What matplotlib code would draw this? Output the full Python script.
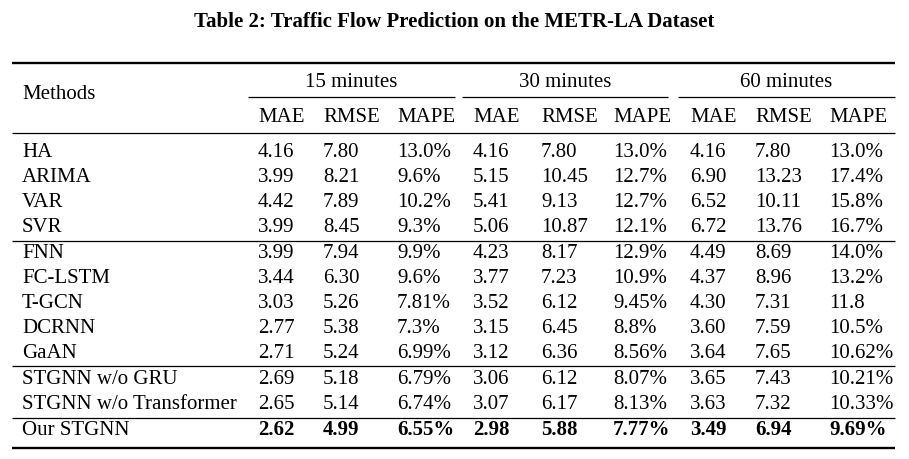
import matplotlib
matplotlib.use("Agg")
import matplotlib.pyplot as plt

title = "Table 2: Traffic Flow Prediction on the METR-LA Dataset"
groups = ["15 minutes", "30 minutes", "60 minutes"]
metrics = ["MAE", "RMSE", "MAPE"]
methods = ["HA", "ARIMA", "VAR", "SVR", "FNN", "FC-LSTM", "T-GCN", "DCRNN", "GaAN",
           "STGNN w/o GRU", "STGNN w/o Transformer", "Our STGNN"]
mae15 = ["4.16", "3.99", "4.42", "3.99", "3.99", "3.44", "3.03", "2.77", "2.71", "2.69", "2.65", "2.62"]
rmse15 = ["7.80", "8.21", "7.89", "8.45", "7.94", "6.30", "5.26", "5.38", "5.24", "5.18", "5.14", "4.99"]
mape15 = ["13.0%", "9.6%", "10.2%", "9.3%", "9.9%", "9.6%", "7.81%", "7.3%", "6.99%", "6.79%", "6.74%", "6.55%"]
mae30 = ["4.16", "5.15", "5.41", "5.06", "4.23", "3.77", "3.52", "3.15", "3.12", "3.06", "3.07", "2.98"]
rmse30 = ["7.80", "10.45", "9.13", "10.87", "8.17", "7.23", "6.12", "6.45", "6.36", "6.12", "6.17", "5.88"]
mape30 = ["13.0%", "12.7%", "12.7%", "12.1%", "12.9%", "10.9%", "9.45%", "8.8%", "8.56%", "8.07%", "8.13%", "7.77%"]
mae60 = ["4.16", "6.90", "6.52", "6.72", "4.49", "4.37", "4.30", "3.60", "3.64", "3.65", "3.63", "3.49"]
rmse60 = ["7.80", "13.23", "10.11", "13.76", "8.69", "8.96", "7.31", "7.59", "7.65", "7.43", "7.32", "6.94"]
mape60 = ["13.0%", "17.4%", "15.8%", "16.7%", "14.0%", "13.2%", "11.8", "10.5%", "10.62%", "10.21%", "10.33%", "9.69%"]

columns = [mae15, rmse15, mape15, mae30, rmse30, mape30, mae60, rmse60, mape60]

W, H = 909, 459
fig = plt.figure(figsize=(W / 100, H / 100), dpi=100)
ax = fig.add_axes([0, 0, 1, 1])
ax.set_xlim(0, W)
ax.set_ylim(H, 0)
ax.axis("off")

font = "Liberation Serif"
fs = 15
col_x = [258, 323, 397, 473, 541, 613, 690, 755, 829]
row_base = [157, 182, 207, 232, 258, 283, 308, 333, 358, 384, 409, 435]
grp_spans = [(248, 455), (462, 668), (678, 895)]

ax.text(W / 2, 27, title, ha="center", va="baseline", fontsize=15,
        fontweight="bold", family=font)

# rules
ax.plot([12, 895], [63, 63], color="black", lw=1.7, solid_capstyle="butt")
ax.plot([12, 895], [133, 133], color="black", lw=0.9, solid_capstyle="butt")
for y in [241, 366, 418]:
    ax.plot([12, 895], [y, y], color="black", lw=0.9, solid_capstyle="butt")
ax.plot([12, 895], [448, 448], color="black", lw=1.7, solid_capstyle="butt")
for a, b in grp_spans:
    ax.plot([a, b], [97, 97], color="black", lw=0.9, solid_capstyle="butt")

# header
ax.text(22, 99, "Methods", ha="left", va="baseline", fontsize=fs, family=font)
for (a, b), g in zip(grp_spans, groups):
    ax.text((a + b) / 2, 87, g, ha="center", va="baseline", fontsize=fs, family=font)
for i, x in enumerate(col_x):
    ax.text(x, 122, metrics[i % 3], ha="left", va="baseline", fontsize=fs, family=font)

# body
for r, (m, y) in enumerate(zip(methods, row_base)):
    bold = m == "Our STGNN"
    ax.text(22, y, m, ha="left", va="baseline", fontsize=fs, family=font)
    for x, col in zip(col_x, columns):
        ax.text(x, y, col[r], ha="left", va="baseline", fontsize=fs, family=font,
                fontweight="bold" if bold else "normal")

fig.savefig("out.png", dpi=100)
